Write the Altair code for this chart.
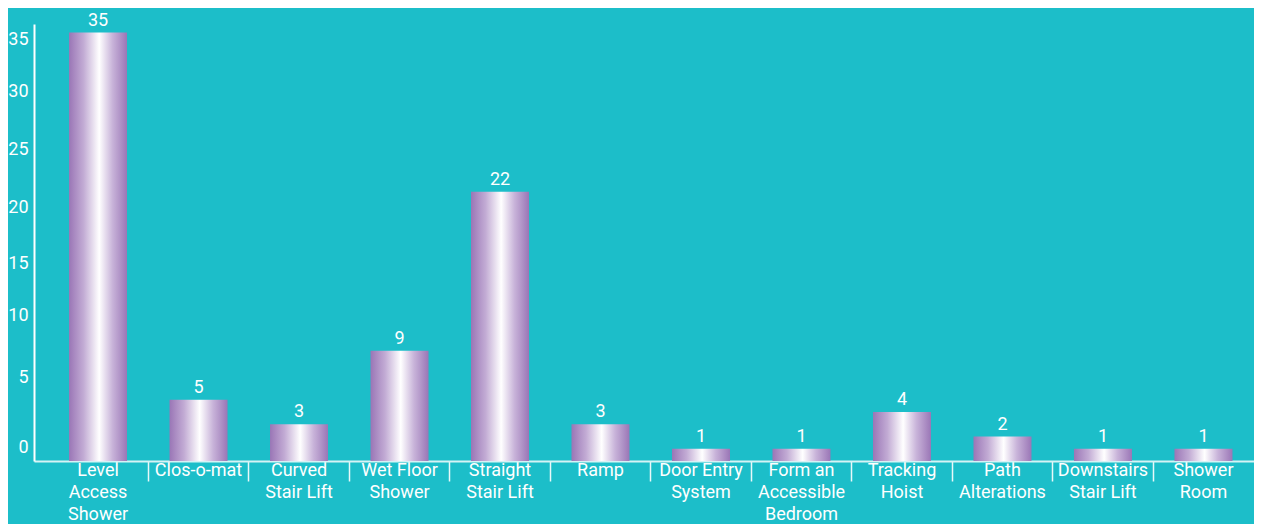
import altair as alt
import pandas as pd
import json

categories = ["Level Access Shower", "Clos-o-mat", "Curved Stair Lift", "Wet Floor Shower",
              "Straight Stair Lift", "Ramp", "Door Entry System", "Form an Accessible Bedroom",
              "Tracking Hoist", "Path Alterations", "Downstairs Stair Lift", "Shower Room"]
label_lines = [["Level", "Access", "Shower"], ["Clos-o-mat"], ["Curved", "Stair Lift"],
               ["Wet Floor", "Shower"], ["Straight", "Stair Lift"], ["Ramp"],
               ["Door Entry", "System"], ["Form an", "Accessible", "Bedroom"],
               ["Tracking", "Hoist"], ["Path", "Alterations"], ["Downstairs", "Stair Lift"],
               ["Shower", "Room"]]
values = [35, 5, 3, 9, 22, 3, 1, 1, 4, 2, 1, 1]
y_ticks = [0, 5, 10, 15, 20, 25, 30, 35]

df = pd.DataFrame({"category": categories, "value": values})
lookup = json.dumps(dict(zip(categories, label_lines)))

# style: the original's y labels sit a little off their gridline positions
y_label_shift = {0: -14, 5: -22, 10: -23, 15: -14, 20: -9, 25: -5, 30: -2, 35: 7}
shift_expr = json.dumps({str(k): v for k, v in y_label_shift.items()}) + "[''+datum.value]"

BG = "#1cbec9"
FONT = "Roboto"

grad = alt.Gradient(
    gradient="linear", x1=0, x2=1, y1=0, y2=0,
    stops=[
        alt.GradientStop(color="#9a76b6", offset=0),
        alt.GradientStop(color="#c2abd4", offset=0.25),
        alt.GradientStop(color="#ffffff", offset=0.52),
        alt.GradientStop(color="#c8b3d9", offset=0.75),
        alt.GradientStop(color="#9a76b6", offset=1),
    ],
)

x = alt.X("category:N", sort=categories, title=None,
          scale=alt.Scale(paddingInner=0, paddingOuter=0.07, align=0.98),
          axis=alt.Axis(labelAngle=0, labelColor="white", labelFont=FONT, labelFontSize=18,
                        labelLineHeight=22, labelPadding=-20, labelLimit=0,
                        labelExpr=f"{lookup}[datum.label]",
                        bandPosition=0, tickSize=20, tickColor="#e8f8f9", tickWidth=1.5,
                        tickOpacity={"condition": {"test": "datum.value === 'Level Access Shower'",
                                                   "value": 0}, "value": 1},
                        domainColor="#d6f3f5", domainWidth=2, grid=False))
y = alt.Y("value:Q", title=None,
          scale=alt.Scale(domain=[0, 35.7], nice=False),
          axis=alt.Axis(values=y_ticks, labelColor="white", labelFont=FONT, labelFontSize=18,
                        labelOffset={"expr": shift_expr}, ticks=False, domainColor="white",
                        domainWidth=2, grid=False, labelPadding=6))

bars = alt.Chart(df).mark_bar(color=grad, size=58).encode(x=x, y=y)
text = alt.Chart(df).mark_text(color="white", font=FONT, fontSize=18, baseline="bottom", dy=-3).encode(
    x=alt.X("category:N", sort=categories), y="value:Q", text="value:Q")

chart = (bars + text).properties(
    width=1220, height=437, background=BG,
    padding={"left": 26, "top": 16, "right": 0, "bottom": 63},
    autosize=alt.AutoSizeParams(type="none"),
).configure_view(stroke=None)

chart.save("out.html", embed_options={"renderer": "svg", "actions": False})
